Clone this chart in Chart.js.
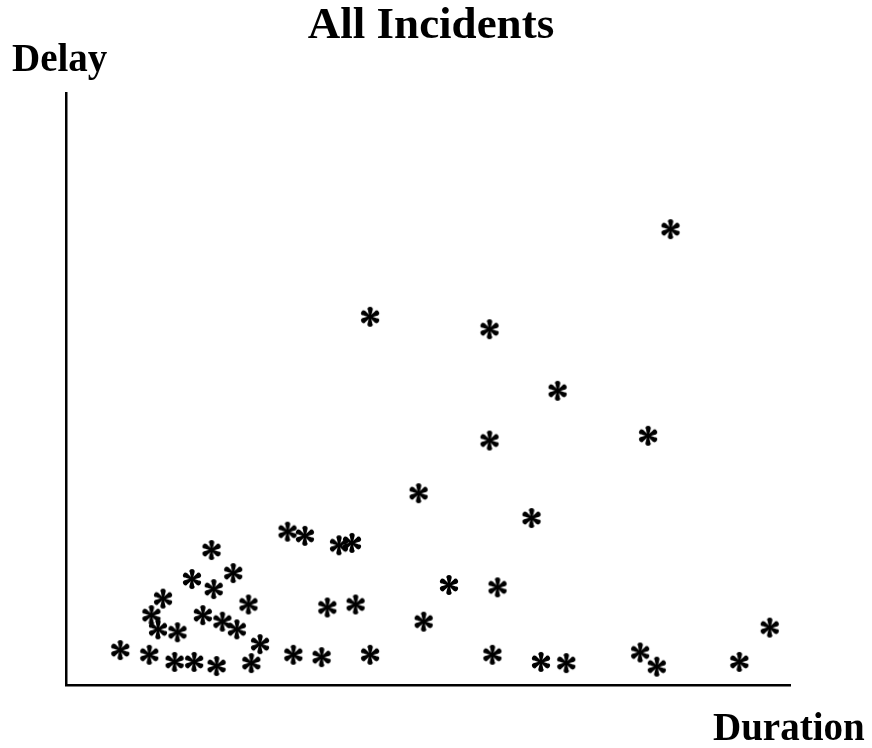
<!DOCTYPE html>
<html>
<head>
<meta charset="utf-8">
<script src="https://cdn.jsdelivr.net/npm/chart.js@4/dist/chart.umd.min.js"></script>
<style>
  html, body { margin: 0; padding: 0; background: #fff; }
  #wrap { width: 872px; height: 748px; position: relative; }
</style>
</head>
<body>
<div id="wrap"><canvas id="c" width="872" height="748"></canvas></div>
<script>
const chartTitle = "All Incidents";
const yLabel = "Delay";
const xLabel = "Duration";

const duration = [
  20.1, 30.6, 33.0, 37.7, 39.5, 23.1, 17.4, 20.4, 13.4, 25.2,
  11.8, 18.9, 21.6, 23.6, 12.7, 15.4, 36.1, 40.0, 26.8, 7.5,
  11.5, 15.0, 17.7, 20.8, 25.6, 31.4, 35.3, 64.3, 52.9, 59.6,
  49.4, 42.0, 58.9, 65.6, 69.1, 79.3, 81.6, 93.0, 97.2, 83.5,
  42.0, 58.5, 67.9, 58.5, 80.4, 48.7
];
const delay = [
  22.8, 25.9, 25.2, 23.6, 24.0, 18.9, 17.9, 16.2, 14.6, 13.6,
  11.8, 11.8, 10.7, 9.4, 9.4, 8.9, 13.1, 13.6, 6.9, 5.9,
  5.1, 3.9, 3.9, 3.2, 3.7, 5.1, 4.7, 28.2, 16.9, 16.5,
  10.7, 5.1, 5.1, 3.9, 3.7, 5.5, 3.1, 3.9, 9.7, 77.0,
  62.2, 60.1, 49.7, 41.3, 42.1, 32.4
];

const points = duration.map((d, i) => ({ x: d, y: delay[i] }));

// six-petal teardrop asterisk marker
function makeStar(R) {
  const c = document.createElement('canvas');
  const size = Math.ceil(2 * R + 4);
  c.width = size; c.height = size;
  const ctx = c.getContext('2d');
  ctx.translate(size / 2, size / 2);
  ctx.fillStyle = '#000';
  const rb = R * 0.27, d = R - rb, w0 = R * 0.08;
  for (let k = 0; k < 6; k++) {
    ctx.save();
    ctx.rotate(-Math.PI / 2 + k * Math.PI / 3);
    ctx.beginPath();
    ctx.moveTo(0, -w0);
    ctx.lineTo(d, -rb * 0.85);
    ctx.arc(d, 0, rb, -Math.PI / 2, Math.PI / 2, false);
    ctx.lineTo(0, w0);
    ctx.closePath();
    ctx.fill();
    ctx.restore();
  }
  ctx.beginPath();
  ctx.arc(0, 0, R * 0.14, 0, Math.PI * 2);
  ctx.fill();
  return c;
}
const star = makeStar(10);

const textPlugin = {
  id: 'texts',
  afterDraw(chart) {
    const ctx = chart.ctx;
    ctx.save();
    ctx.fillStyle = '#000';
    ctx.textBaseline = 'alphabetic';
    ctx.font = 'bold 45px "Liberation Serif", "Times New Roman", serif';
    ctx.textAlign = 'center';
    ctx.fillText(chartTitle, 431, 38);
    ctx.font = 'bold 39px "Liberation Serif", "Times New Roman", serif';
    ctx.textAlign = 'left';
    ctx.fillText(yLabel, 12, 71);
    ctx.fillText(xLabel, 713, 740);
    ctx.restore();
  }
};

new Chart(document.getElementById('c'), {
  type: 'scatter',
  data: {
    datasets: [{
      data: points,
      pointStyle: star,
      pointRadius: 10,
      pointHoverRadius: 10,
      showLine: false,
      clip: false
    }]
  },
  options: {
    responsive: false,
    animation: false,
    events: [],
    layout: { padding: { left: 66, right: 82, top: 93, bottom: 63 } },
    plugins: { legend: { display: false }, tooltip: { enabled: false }, title: { display: false } },
    scales: {
      x: {
        type: 'linear', min: 0, max: 100,
        ticks: { display: false },
        grid: { display: false },
        border: { display: true, color: '#000', width: 2.5 },
        afterFit(s) { s.height = 0; }
      },
      y: {
        type: 'linear', min: 0, max: 100,
        ticks: { display: false },
        grid: { display: false },
        border: { display: true, color: '#000', width: 2.5 },
        afterFit(s) { s.width = 0; }
      }
    }
  },
  plugins: [textPlugin]
});
</script>
</body>
</html>
